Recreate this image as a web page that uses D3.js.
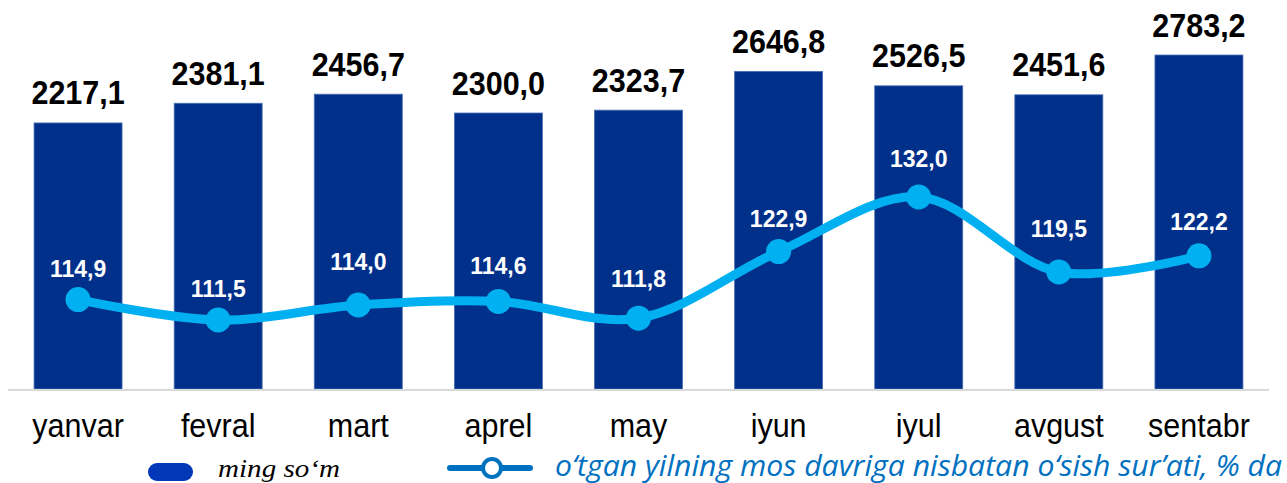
<!DOCTYPE html>
<html>
<head>
<meta charset="utf-8">
<title>Oylik ish haqi</title>
<script src="https://cdn.jsdelivr.net/npm/d3@7/dist/d3.min.js"></script>
<style>
  body { margin: 0; background: #fff; }
  text { font-family: "Liberation Sans", Arial, sans-serif; }
</style>
</head>
<body>
<svg id="chart"></svg>
<script>

var months = ["yanvar", "fevral", "mart", "aprel", "may", "iyun", "iyul", "avgust", "sentabr"]
var wages = [2217.1, 2381.1, 2456.7, 2300.0, 2323.7, 2646.8, 2526.5, 2451.6, 2783.2]
var growth = [114.9, 111.5, 114.0, 114.6, 111.8, 122.9, 132.0, 119.5, 122.2]
var barLegend = "ming so‘m"
var lineLegend = "o‘tgan yilning mos davriga nisbatan o‘sish sur’ati, % da"

// layout
var width = 1287, height = 483
var baseY = 389, plotTop = 29
// growth labels were nudged by hand in the original, so lift each one a bit differently
var labelLift = [23, 23, 35, 27, 31, 25, 30, 35, 26]

var barColor = "#01308a"
var lineColor = "#00b0f0"
var legendBlue = "#0070c0"

var fmt = function(v) { return d3.format(".1f")(v).replace(".", ",") }

var svg = d3.select("#chart")
  .attr("width", width)
  .attr("height", height)

var x = d3.scaleBand()
  .domain(months)
  .range([8, 1269])
  .paddingInner(0.372)
  .paddingOuter(0.186)

var yBar = d3.scaleLinear().domain([0, 3000]).range([baseY, plotTop])
var yLine = d3.scaleLinear().domain([100, 160]).range([baseY, plotTop])

var cx = function(i) { return x(months[i]) + x.bandwidth() / 2 }

// bars
svg.append("g").selectAll("rect")
  .data(wages)
  .enter().append("rect")
  .attr("x", function(d, i) { return x(months[i]) })
  .attr("y", function(d) { return yBar(d) })
  .attr("width", x.bandwidth())
  .attr("height", function(d) { return baseY - yBar(d) })
  .attr("fill", barColor)
  .attr("stroke", "#4a6fb5")
  .attr("stroke-width", 0.8)

// baseline
svg.append("line")
  .attr("x1", x.range()[0]).attr("x2", x.range()[1])
  .attr("y1", baseY + 1).attr("y2", baseY + 1)
  .attr("stroke", "#d9d9d9")
  .attr("stroke-width", 2)

// bar value labels
svg.append("g").selectAll("text")
  .data(wages)
  .enter().append("text")
  .attr("transform", function(d, i) { return "translate(" + cx(i) + "," + (yBar(d) - 18.5) + ") scale(1,1.1)" })
  .attr("text-anchor", "middle")
  .attr("font-size", 30.5)
  .attr("font-weight", "bold")
  .attr("fill", "#000")
  .text(fmt)

// month labels
svg.append("g").selectAll("text")
  .data(months)
  .enter().append("text")
  .attr("transform", function(d, i) { return "translate(" + cx(i) + "," + (baseY + 48) + ") scale(1,1.1)" })
  .attr("text-anchor", "middle")
  .attr("font-size", 30.5)
  .attr("fill", "#000")
  .text(function(d) { return d })

// growth line
var line = d3.line()
  .x(function(d, i) { return cx(i) })
  .y(function(d) { return yLine(d) })
  .curve(d3.curveCatmullRom.alpha(0.5))

svg.append("path")
  .datum(growth)
  .attr("d", line)
  .attr("fill", "none")
  .attr("stroke", lineColor)
  .attr("stroke-width", 9)
  .attr("stroke-linecap", "round")

svg.append("g").selectAll("circle")
  .data(growth)
  .enter().append("circle")
  .attr("cx", function(d, i) { return cx(i) })
  .attr("cy", function(d) { return yLine(d) })
  .attr("r", 12.5)
  .attr("fill", lineColor)

svg.append("g").selectAll("text")
  .data(growth)
  .enter().append("text")
  .attr("transform", function(d, i) { return "translate(" + cx(i) + "," + (yLine(d) - labelLift[i]) + ") scale(1,1.05)" })
  .attr("text-anchor", "middle")
  .attr("font-size", 23)
  .attr("font-weight", "bold")
  .attr("fill", "#fff")
  .text(fmt)

// legend
var legend = svg.append("g")

legend.append("rect")
  .attr("x", 148).attr("y", 463)
  .attr("width", 45).attr("height", 18)
  .attr("rx", 9)
  .attr("fill", "#0038b8")

legend.append("text")
  .attr("x", 218).attr("y", 477)
  .style("font-family", "'Liberation Serif', 'Times New Roman', serif")
  .attr("font-style", "italic")
  .attr("font-size", 26)
  .attr("textLength", 122)
  .attr("lengthAdjust", "spacingAndGlyphs")
  .attr("fill", "#000")
  .text(barLegend)

legend.append("line")
  .attr("x1", 450).attr("x2", 530)
  .attr("y1", 468).attr("y2", 468)
  .attr("stroke", legendBlue)
  .attr("stroke-width", 6)
  .attr("stroke-linecap", "round")

legend.append("circle")
  .attr("cx", 492).attr("cy", 468)
  .attr("r", 9)
  .attr("fill", "#fff")
  .attr("stroke", legendBlue)
  .attr("stroke-width", 4)

legend.append("text")
  .attr("x", 555).attr("y", 476)
  .style("font-family", "'Open Sans', 'Noto Sans', sans-serif")
  .attr("font-style", "italic")
  .attr("font-size", 28.5)
  .attr("textLength", 727)
  .attr("lengthAdjust", "spacingAndGlyphs")
  .attr("fill", legendBlue)
  .text(lineLegend)

</script>
</body>
</html>
